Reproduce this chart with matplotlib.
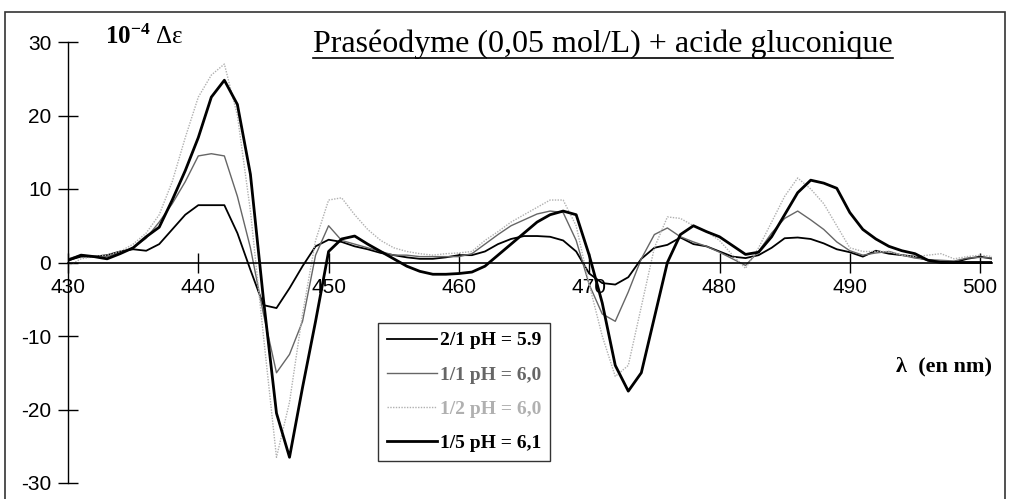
import numpy as np
import matplotlib
matplotlib.use("Agg")
import matplotlib.pyplot as plt
from matplotlib.patches import Rectangle
from matplotlib.lines import Line2D

plt.rcParams["axes.unicode_minus"] = False
plt.rcParams["mathtext.fontset"] = "custom"
plt.rcParams["mathtext.rm"] = "Liberation Serif"
plt.rcParams["mathtext.bf"] = "Liberation Serif:bold"

# wavelength (nm), one point per nm
wavelength = list(range(430, 502))

# 2/1 pH = 5.9
d_21 = [0.3, 0.8, 0.8, 1.0, 1.5, 1.8, 1.6, 2.5, 4.5, 6.5,
        7.8, 7.8, 7.8, 4.0, -1.0, -5.8, -6.2, -3.5, -0.5, 2.2,
        3.1, 2.8, 2.2, 1.8, 1.3, 1.0, 0.7, 0.5, 0.5, 0.7,
        1.0, 1.0, 1.5, 2.5, 3.2, 3.6, 3.6, 3.5, 3.0, 1.5,
        -1.5, -2.8, -3.0, -2.0, 0.5, 2.0, 2.4, 3.4, 2.5, 2.2,
        1.5, 0.8, 0.6, 1.0, 2.0, 3.3, 3.4, 3.2, 2.6, 1.8,
        1.4, 0.8, 1.6, 1.2, 1.0, 0.8, 0.3, 0.1, 0.0, 0.5,
        0.8, 0.5]
# 1/1 pH = 6,0
d_11 = [0.5, 1.0, 0.8, 0.8, 1.3, 2.0, 3.3, 5.5, 8.0, 11.0,
        14.5, 14.8, 14.5, 9.0, 2.0, -7.0, -15.0, -12.5, -8.0, 1.0,
        5.0, 3.0, 2.5, 2.0, 1.5, 1.0, 1.0, 0.8, 0.8, 0.8,
        0.8, 1.2, 2.5, 3.8, 5.0, 5.8, 6.6, 7.0, 6.8, 3.0,
        -3.0, -7.0, -8.0, -4.0, 0.5, 3.8, 4.7, 3.5, 2.8, 2.2,
        1.4, 0.5, -0.4, 1.5, 4.0, 6.0, 7.0, 5.8, 4.5, 2.8,
        1.6, 1.0, 1.3, 1.5, 1.0, 0.6, 0.4, 0.3, 0.2, 0.6,
        0.7, 0.6]
# 1/2 pH = 6,0
d_12 = [-0.5, 0.5, 0.8, 1.0, 1.5, 2.5, 4.0, 6.5, 11.0, 17.0,
        22.5, 25.5, 27.0, 20.0, 7.0, -10.0, -26.5, -19.0, -7.0, 3.0,
        8.5, 8.8, 6.5, 4.5, 3.0, 2.0, 1.5, 1.2, 1.0, 1.2,
        1.3, 1.5, 3.0, 4.2, 5.5, 6.5, 7.5, 8.5, 8.5, 5.0,
        -3.0, -10.0, -15.5, -14.0, -6.0, 2.0, 6.2, 6.0, 5.0, 4.2,
        3.0, 1.0, -0.8, 2.0, 5.5, 9.0, 11.5, 10.0, 8.0, 5.0,
        2.0, 1.5, 1.5, 1.5, 1.0, 0.8, 1.0, 1.2, 0.5, 0.8,
        1.0, 0.8]
# 1/5 pH = 6,1
d_15 = [0.3, 1.0, 0.8, 0.5, 1.2, 2.0, 3.5, 4.8, 8.5, 12.5,
        17.0, 22.5, 24.8, 21.5, 12.0, -5.0, -20.5, -26.5, -17.0, -8.0,
        1.5, 3.2, 3.6, 2.5, 1.5, 0.5, -0.5, -1.2, -1.6, -1.6,
        -1.5, -1.3, -0.5, 1.0, 2.5, 4.0, 5.5, 6.5, 7.0, 6.5,
        1.0, -5.5, -14.0, -17.5, -15.0, -7.5, 0.0, 3.8, 5.0, 4.2,
        3.5, 2.3, 1.1, 1.4, 3.5, 6.5, 9.5, 11.2, 10.8, 10.1,
        6.8, 4.5, 3.2, 2.2, 1.6, 1.2, 0.3, 0.0, 0.0, 0.0,
        0.0, 0.0]

labels = ["2/1 pH = 5.9", "1/1 pH = 6,0", "1/2 pH = 6,0", "1/5 pH = 6,1"]
colors = ["black", "#666666", "#b0b0b0", "black"]

fig = plt.figure(figsize=(10.09, 4.99), dpi=100)
W, H = 1009, 499
# axes: 430 nm at x=68px, 13.03 px per nm ; +30 at y=42px, -30 at y=483px
x_lo, x_hi = 430, 500.9
ax = fig.add_axes([68 / W, 1 - 483 / H, (x_hi - x_lo) * 13.03 / W, (483 - 42) / H])
ax.set_xlim(x_lo, x_hi)
ax.set_ylim(-30, 30)

ax.plot(wavelength, d_21, color=colors[0], lw=1.3)
ax.plot(wavelength, d_11, color=colors[1], lw=1.0)
ax.plot(wavelength, d_12, color=colors[2], lw=1.0, ls=(0, (1, 1)))
ax.plot(wavelength, d_15, color=colors[3], lw=2.0)

for s in ["top", "right"]:
    ax.spines[s].set_visible(False)
ax.spines["bottom"].set_position(("data", 0))
ax.spines["left"].set_linewidth(1.0)
ax.spines["bottom"].set_linewidth(1.2)

ax.set_xticks(range(430, 501, 10))
ax.set_yticks(range(-30, 31, 10))
ax.tick_params(axis="both", direction="inout", length=14, width=1.0,
               labelsize=15)
ax.tick_params(axis="x", pad=4)
ax.tick_params(axis="y", pad=5)
for lab in ax.get_xticklabels() + ax.get_yticklabels():
    lab.set_fontfamily("Liberation Sans")

# legend
handles = [Line2D([], [], color=colors[0], lw=1.3),
           Line2D([], [], color=colors[1], lw=1.0),
           Line2D([], [], color=colors[2], lw=1.0, ls=(0, (1, 1))),
           Line2D([], [], color=colors[3], lw=2.0)]
leg = fig.legend(handles, labels, loc="upper left",
                 bbox_to_anchor=(378 / W, 1 - 323 / H),
                 prop={"family": "Liberation Serif", "weight": "bold", "size": 14},
                 labelcolor=colors, frameon=True, fancybox=False,
                 edgecolor="black", borderpad=0.45, labelspacing=0.85,
                 handlelength=2.6, handletextpad=0.15, borderaxespad=0)
leg.get_frame().set_linewidth(1.0)

# texts
fig.text(105 / W, 1 - 37 / H, r"$\mathbf{10^{-4}}$ Δε", fontsize=18,
         fontfamily="Liberation Serif", va="center", ha="left")
title = fig.text(603 / W, 1 - 44 / H, "Praséodyme (0,05 mol/L) + acide gluconique",
                 fontsize=23, fontfamily="Liberation Serif", ha="center", va="center")
fig.text(992 / W, 1 - 366 / H, "λ  (en nm)", fontsize=16, fontweight="bold",
         fontfamily="Liberation Serif", ha="right", va="center")

# underline the title
fig.canvas.draw()
bb = title.get_window_extent(fig.canvas.get_renderer())
uy = (bb.y0 + 1) / H
fig.add_artist(Line2D([bb.x0 / W, bb.x1 / W], [uy, uy], color="black", lw=1.2))

# outer frame
fig.add_artist(Rectangle((5 / W, -0.02), 1000 / W, 1 - 12 / H + 0.02,
                         fill=False, edgecolor="#333333", lw=1.2,
                         transform=fig.transFigure))

fig.savefig("out.png", dpi=100)
